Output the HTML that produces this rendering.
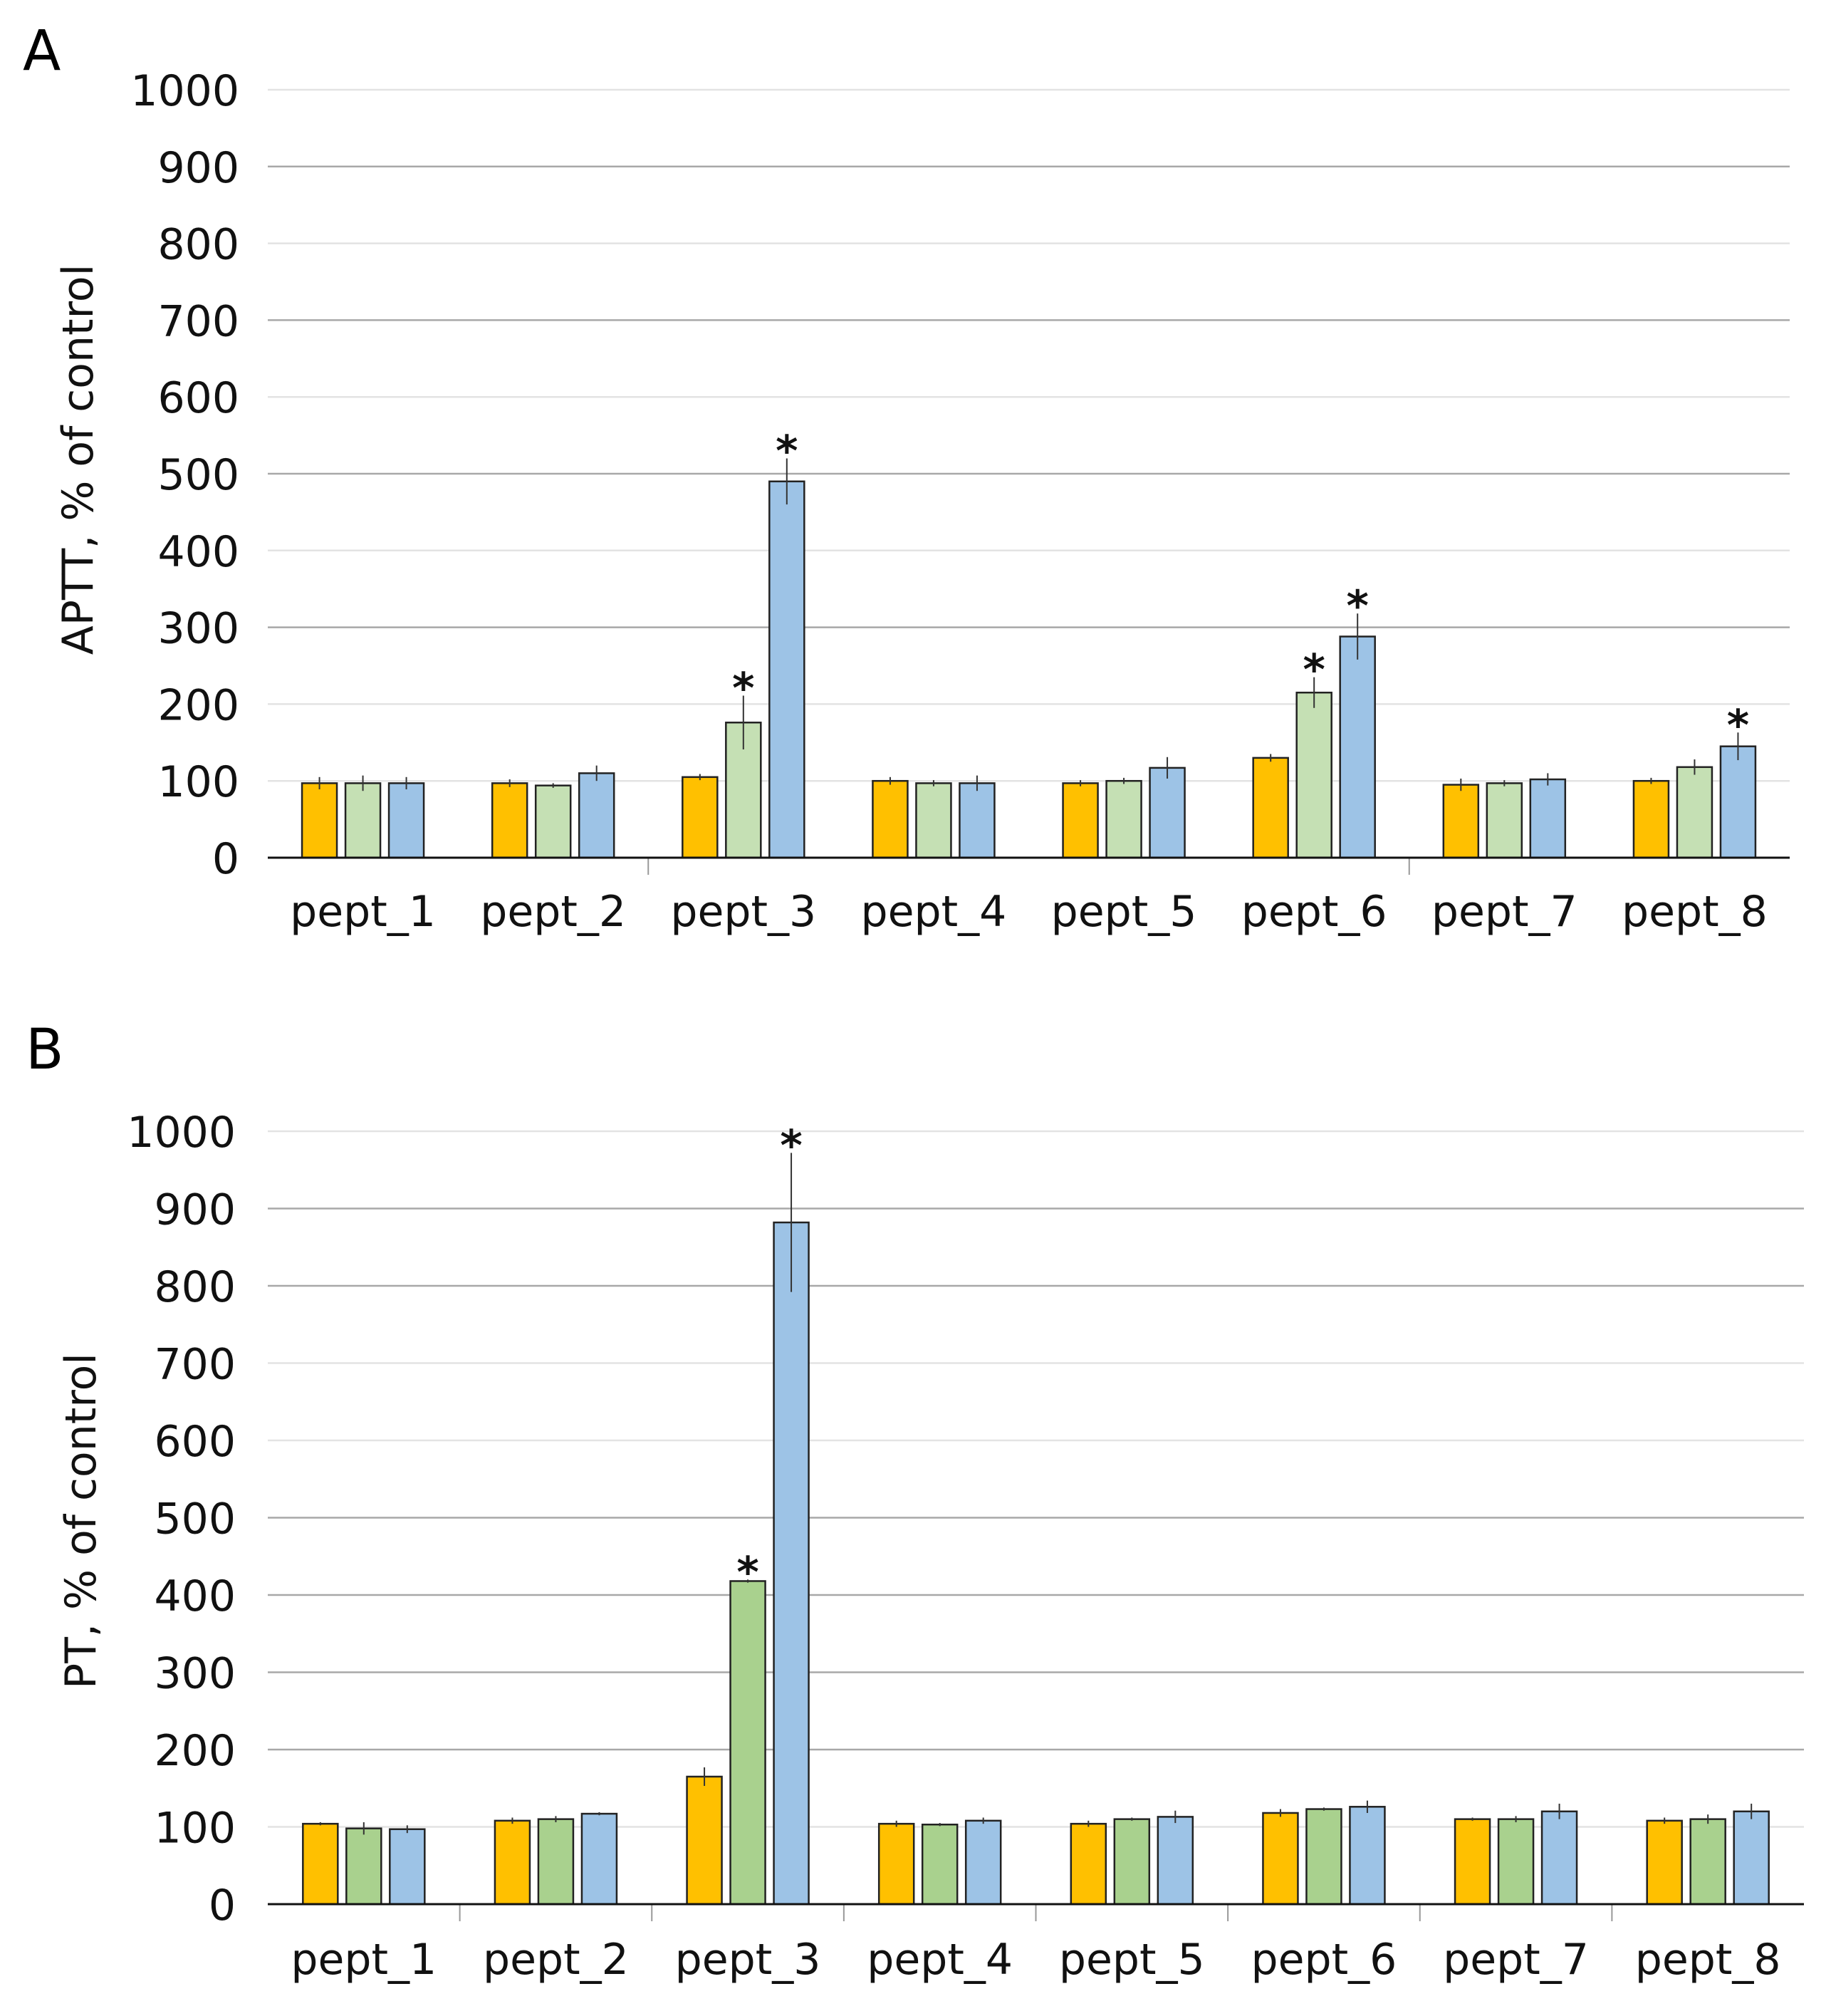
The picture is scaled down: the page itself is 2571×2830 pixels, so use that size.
<!DOCTYPE html>
<html><head><meta charset="utf-8">
<style>
html,body{margin:0;padding:0;background:#fff;}
svg{display:block;font-family:"DejaVu Sans","Liberation Sans",sans-serif;}
</style></head>
<body>
<svg id="fig" width="2571" height="2830" viewBox="0 0 2571 2830" xmlns="http://www.w3.org/2000/svg">
<text x="32" y="98" font-size="78">A</text>
<text x="36" y="1500" font-size="78">B</text>
<g id="chartA"></g>
<g id="chartB"></g>
</svg>
<script>
const categories = ["pept_1","pept_2","pept_3","pept_4","pept_5","pept_6","pept_7","pept_8"];
const yTicks = [0,100,200,300,400,500,600,700,800,900,1000];
const aptt1 = [97,97,105,100,97,130,95,100];
const aptt2 = [97,94,176,97,100,215,97,118];
const aptt3 = [97,110,490,97,117,288,102,145];
const apttErr1 = [8,5,4,5,4,5,8,4];
const apttErr2 = [10,3,35,4,4,20,4,10];
const apttErr3 = [8,10,30,10,14,30,8,18];
const apttStars2 = [0,0,1,0,0,1,0,0];
const apttStars3 = [0,0,1,0,0,1,0,1];
const pt1 = [104,108,165,104,104,118,110,108];
const pt2 = [98,110,418,103,110,123,110,110];
const pt3 = [97,117,882,108,113,126,120,120];
const ptErr1 = [2,4,12,4,4,5,2,4];
const ptErr2 = [8,4,2,2,2,2,4,6];
const ptErr3 = [5,2,90,4,8,8,10,10];
const ptStars2 = [0,0,1,0,0,0,0,0];
const ptStars3 = [0,0,1,0,0,0,0,0];

const NS="http://www.w3.org/2000/svg";
function mk(parent,tag,attrs){const e=document.createElementNS(NS,tag);for(const k in attrs)e.setAttribute(k,attrs[k]);parent.appendChild(e);return e;}

function draw(g,cfg){
  const y = v => cfg.y0 - (v/1000)*(cfg.y0-cfg.y1000);
  const gw=(cfg.right-cfg.left)/categories.length;
  yTicks.forEach((t,i)=>{
    if(t>0){
      const l=mk(g,'line',{x1:cfg.left,x2:cfg.right,y1:y(t),y2:y(t),stroke:cfg.dark[i]?'#a8a8a8':'#e3e3e3','stroke-width':2.5});
      
      
    }
    const tx=mk(g,'text',{x:cfg.tickX,y:y(t)+22,'font-size':60,'text-anchor':'end',fill:'#111'});
    tx.textContent=t;
    
    
  });
  const series=[cfg.s1,cfg.s2,cfg.s3], errs=[cfg.e1,cfg.e2,cfg.e3], stars=[null,cfg.st2,cfg.st3];
  const cols=['#FFC000',cfg.green,'#9DC3E6'];
  const bw=49, pitch=61;
  categories.forEach((c,i)=>{
    const cx=cfg.left+gw*(i+0.5);
    series.forEach((s,j)=>{
      const bx=cx+(j-1)*pitch-bw/2;
      const r=mk(g,'rect',{x:bx,y:y(s[i]),width:bw,height:y(0)-y(s[i]),fill:cols[j],stroke:'#222','stroke-width':2.5});
      
      
      const e=errs[j][i];
      const el=mk(g,'line',{x1:bx+bw/2,x2:bx+bw/2,y1:y(s[i]+e),y2:y(s[i]-e),stroke:'#333','stroke-width':2});
      
      
      if(stars[j] && stars[j][i]){
        const st=mk(g,'text',{x:bx+bw/2,y:y(s[i]+e)+10,'font-size':60,'text-anchor':'middle','font-weight':'bold',fill:'#111'});
        st.textContent='*';
        
        
      }
    });
    const lb=mk(g,'text',{x:cx,y:cfg.labelY,'font-size':60,'text-anchor':'middle',fill:'#111'});
    lb.textContent=c;
    
    
    if(i>0 && cfg.ticks[i]){
      const tk=mk(g,'line',{x1:cfg.left+gw*i,x2:cfg.left+gw*i,y1:y(0),y2:y(0)+24,stroke:'#999','stroke-width':2});
      
      
    }
  });
  const ax=mk(g,'line',{x1:cfg.left,x2:cfg.right,y1:y(0),y2:y(0),stroke:'#111','stroke-width':3});
  
  
  const yt=mk(g,'text',{x:0,y:0,'font-size':60,'text-anchor':'middle',fill:'#111',transform:'translate('+cfg.titleX+','+cfg.titleY+') rotate(-90)'});
  yt.textContent=cfg.title;
  
  
}
draw(document.getElementById('chartA'),{left:376,right:2513,y0:1204,y1000:126,tickX:336,labelY:1300,titleX:130,titleY:645,
  dark:[0,0,0,1,0,1,0,1,0,1,0],ticks:[0,0,1,0,0,0,1,0],
  s1:aptt1,s2:aptt2,s3:aptt3,e1:apttErr1,e2:apttErr2,e3:apttErr3,st2:apttStars2,st3:apttStars3,green:'#C5E0B4',title:'APTT, % of control'});
draw(document.getElementById('chartB'),{left:376,right:2533,y0:2673,y1000:1588,tickX:331,labelY:2771,titleX:134,titleY:2135,
  dark:[0,0,1,1,1,1,0,0,1,1,0],ticks:[0,1,1,1,1,1,1,1],
  s1:pt1,s2:pt2,s3:pt3,e1:ptErr1,e2:ptErr2,e3:ptErr3,st2:ptStars2,st3:ptStars3,green:'#A9D18E',title:'PT, % of control'});
</script>
</body></html>
